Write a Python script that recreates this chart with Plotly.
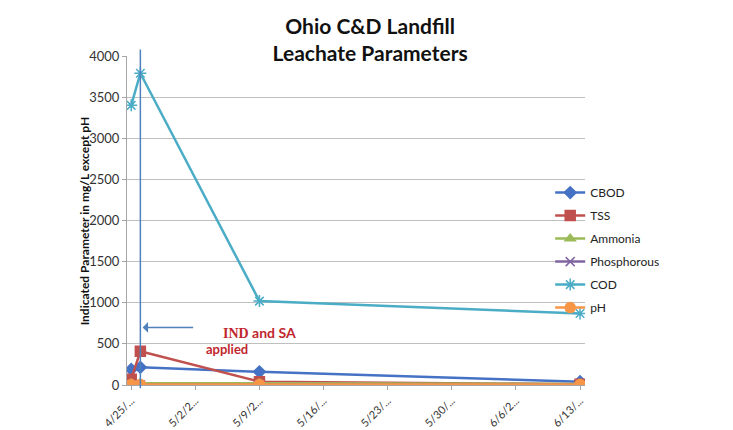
import plotly.graph_objects as go

dates = ["2011-04-25", "2011-04-26", "2011-05-09", "2011-06-13"]
cbod = [190, 215, 160, 40]
tss = [70, 410, 40, 10]
ammonia = [20, 22, 20, 12]
phosphorous = [2, 2, 2, 2]
cod = [3400, 3790, 1020, 870]
ph = [7, 7, 7, 7]

tick_vals = ["2011-04-25", "2011-05-02", "2011-05-09", "2011-05-16",
             "2011-05-23", "2011-05-30", "2011-06-06", "2011-06-13"]
tick_text = ["4/25/...", "5/2/2...", "5/9/2...", "5/16/...",
             "5/23/...", "5/30/...", "6/6/2...", "6/13/..."]

series = [
    ("CBOD", cbod, "#4572C4", "diamond", 9),
    ("TSS", tss, "#C0504D", "square", 10),
    ("Ammonia", ammonia, "#9BBB59", "triangle-up", 9),
    ("Phosphorous", phosphorous, "#8064A2", "x-thin-open", 9),
    ("COD", cod, "#4BACC6", "asterisk-open", 10),
    ("pH", ph, "#F79646", "circle", 10),
]

fig = go.Figure()
for name, vals, col, sym, sz in series:
    fig.add_trace(go.Scatter(
        x=dates, y=vals, name=name, mode="lines+markers",
        line=dict(color=col, width=2.5),
        marker=dict(symbol=sym, size=sz, color=col,
                    line=dict(color=col, width=1.5)),
        legendgroup=name,
    ))

FONT = "Lato, Open Sans, sans-serif"

fig.update_layout(
    width=733, height=430,
    margin=dict(l=127, r=148, t=56, b=45, autoexpand=False),
    paper_bgcolor="white", plot_bgcolor="white",
    font=dict(family=FONT, color="#333333", size=12),
    title=dict(text="<b>Ohio C&D Landfill<br>Leachate Parameters</b>",
               x=0.505, xanchor="center", yref="container", y=0.921, yanchor="top",
               font=dict(size=21, color="#111111", family=FONT)),
    showlegend=True,
    legend=dict(x=0.924, xanchor="left", y=0.41, yanchor="middle",
                font=dict(size=12, color="#222222", family=FONT),
                tracegroupgap=4, bgcolor="rgba(0,0,0,0)", itemwidth=30),
    xaxis=dict(type="date", range=["2011-04-24 13:00", "2011-06-13 13:00"],
               tickvals=tick_vals, ticktext=tick_text, tickangle=-45,
               automargin=False,
               showgrid=False, showline=True, linecolor="#A6A6A6",
               ticks="outside", ticklen=4, tickcolor="#A6A6A6",
               tickfont=dict(size=11, color="#333333")),
    yaxis=dict(range=[0, 4000], dtick=500, showgrid=True, gridcolor="#BFBFBF",
               automargin=False,
               showline=True, linecolor="#A6A6A6", zeroline=False,
               ticks="outside", ticklen=4, tickcolor="#A6A6A6",
               tickfont=dict(size=13, color="#333333")),
)

# y-axis title, placed close to the tick labels as in the reference
fig.add_annotation(text="<b>Indicated Parameter in mg/L except pH</b>",
                   xref="paper", yref="paper", x=-0.092, y=0.5,
                   xanchor="center", yanchor="middle",
                   textangle=-90, showarrow=False,
                   font=dict(size=12, color="#111111", family=FONT))

# vertical marker line at application date
fig.add_shape(type="line", xref="x", yref="paper",
              x0="2011-04-26", x1="2011-04-26", y0=-0.01, y1=1.02,
              line=dict(color="#4F81BD", width=1.5))

# arrow pointing to the line
fig.add_annotation(x="2011-04-26 06:00", y=700, xref="x", yref="y",
                   ax=52, ay=0, axref="pixel", ayref="pixel",
                   text="", showarrow=True, arrowhead=1, arrowsize=1.2,
                   arrowwidth=1.5, arrowcolor="#4F81BD")

fig.add_annotation(x="2011-05-04 18:00", y=640, xref="x", yref="y",
                   text="<b><span style='font-family:Liberation Serif'>IND</span> and SA</b>",
                   showarrow=False, xanchor="left",
                   font=dict(size=14, color="#C0262D", family=FONT))
fig.add_annotation(x="2011-05-03", y=435, xref="x", yref="y",
                   text="<b>applied</b>", showarrow=False, xanchor="left",
                   font=dict(size=13, color="#C0262D", family=FONT))

fig.write_html("out.html", config={"displayModeBar": False},
               post_script="document.body.style.margin='0';")
